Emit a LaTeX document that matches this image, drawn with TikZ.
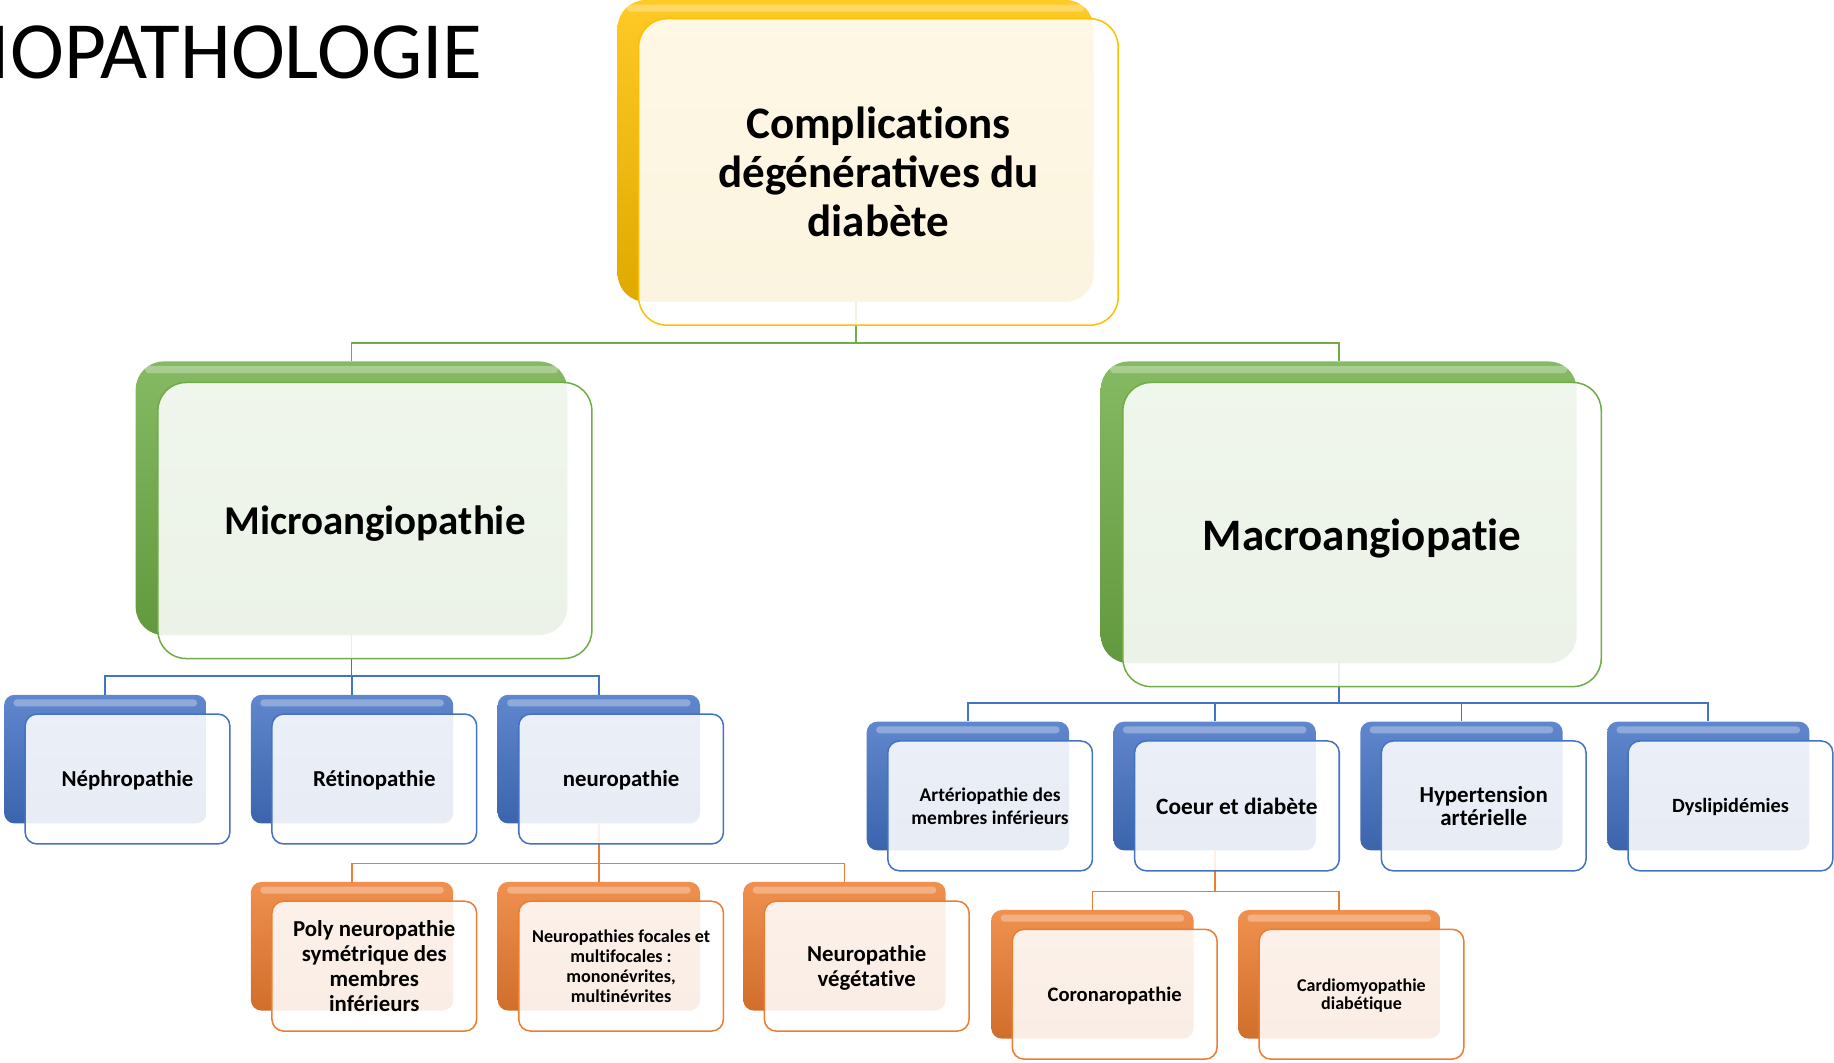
\documentclass[tikz,border=0pt]{standalone}
\usepackage{fontspec}
\setmainfont{Carlito}
\definecolor{yel}{HTML}{FFC000}
\definecolor{grn}{HTML}{70AD47}
\definecolor{blu}{HTML}{4472C4}
\definecolor{org}{HTML}{ED7D31}
% break the t-i ligature of Carlito
\newcommand{\tbreak}{\kern0pt\relax}
\begin{document}
\begin{tikzpicture}[x=1pt,y=-1pt,
  cardback/.style={draw=none, top color=#1!85!white, bottom color=#1!88!black,
    rounded corners=9pt, minimum width=173pt, minimum height=110pt, inner sep=0pt,
    path picture={\fill[white, opacity=0.3, rounded corners=3pt]
      ([xshift=8pt,yshift=-4pt]path picture bounding box.north west) rectangle
      ([xshift=-8pt,yshift=-10pt]path picture bounding box.north east);}},
  cardfront/.style={draw=#1, line width=1.3pt, fill=white, fill opacity=0.88, text opacity=1,
    rounded corners=10pt, minimum width=175pt, minimum height=111pt, inner sep=1pt,
    align=center, text depth=0pt},
  largecard/.style={rounded corners=24pt},
  fsize/.style 2 args={font=\bfseries\fontsize{#1}{#2}\selectfont},
  wire/.style={draw=#1, line width=1.6pt}]

\useasboundingbox (0,0) rectangle (1568,908);
\clip (0,0) rectangle (1568,908);

\node[anchor=base west, inner sep=0pt, font=\fontsize{69.5}{70}\selectfont] (title) at (-9,67) {IOPATHOLOGIE};

%back cards
\node[cardback=yel, largecard, minimum width=407pt, minimum height=258pt] (complB) at (731.5,129) {};
\node[cardback=grn, largecard, minimum width=369pt, minimum height=234pt] (micB) at (300.5,426) {};
\node[cardback=grn, largecard, minimum width=407pt, minimum height=258pt] (macB) at (1144.5,438) {};

\node[cardback=blu] (nephB) at (90,649) {};
\node[cardback=blu] (retB) at (301,649) {};
\node[cardback=blu] (neuroB) at (512,649) {};
\node[cardback=org] (polyB) at (301,809) {};
\node[cardback=org] (focalB) at (512,809) {};
\node[cardback=org] (vegB) at (722,809) {};

\node[cardback=blu] (artB) at (827.5,672) {};
\node[cardback=blu] (coeurB) at (1038.5,672) {};
\node[cardback=blu] (htaB) at (1249.5,672) {};
\node[cardback=blu] (dysB) at (1460.5,672) {};
\node[cardback=org] (coroB) at (934,833) {};
\node[cardback=org] (cardioB) at (1145,833) {};

%connectors
\draw[wire=grn] (complB.south) -- ++(0,35) -| (micB.north);
\draw[wire=grn] (complB.south) -- ++(0,35) -| (macB.north);
\foreach \child in {nephB,retB,neuroB}
  \draw[wire=blu] (micB.south) -- ++(0,35) -| (\child.north);
\foreach \child in {polyB,focalB,vegB}
  \draw[wire=org] (neuroB.south) -- ++(0,34) -| (\child.north);
\foreach \child in {artB,coeurB,htaB,dysB}
  \draw[wire=blu] (macB.south) -- ++(0,34) -| (\child.north);
\foreach \child in {coroB,cardioB}
  \draw[wire=org] (coeurB.south) -- ++(0,35) -| (\child.north);

%front cards with the texts
\node[cardfront=yel, largecard, minimum width=410pt, minimum height=262pt, fsize={38.5}{42}] (compl)
  at ([shift={(19.5,18)}]complB.center) {Complicat\tbreak ions\\dégénératives du\\diabète};
\node[cardfront=grn, largecard, minimum width=371pt, minimum height=236pt, fsize={35}{38}] (mic)
  at ([shift={(20,19)}]micB.center) {Microangiopathie};
\node[cardfront=grn, largecard, minimum width=409pt, minimum height=260pt, fsize={38.5}{42}] (mac)
  at ([shift={(20,19)}]macB.center) {Macroangiopat\tbreak ie};

\node[cardfront=blu, fsize={19.5}{21.3}] (neph) at ([shift={(19,17)}]nephB.center) {Néphropathie};
\node[cardfront=blu, fsize={19.5}{21.3}] (ret) at ([shift={(19,17)}]retB.center) {Rét\tbreak inopathie};
\node[cardfront=blu, fsize={19.5}{21.3}] (neuro) at ([shift={(19,17)}]neuroB.center) {neuropathie};
\node[cardfront=org, fsize={19.5}{21.3}] (poly) at ([shift={(19,17)}]polyB.center)
  {Poly neuropathie\\symétrique des\\membres\\inférieurs};
\node[cardfront=org, fsize={15.5}{17}] (focal) at ([shift={(19,17)}]focalB.center)
  {Neuropathies focales et\\mult\tbreak ifocales :\\mononévrites,\\mult\tbreak inévrites};
\node[cardfront=org, fsize={19.5}{21}] (veg) at ([shift={(19,17)}]vegB.center)
  {Neuropathie\\végétat\tbreak ive};

\node[cardfront=blu, fsize={16.6}{20}] (art) at ([shift={(19,17)}]artB.center)
  {Artériopathie des\\membres inférieurs};
\node[cardfront=blu, fsize={20}{21}] (coeur) at ([shift={(19,17)}]coeurB.center) {Coeur et diabète};
\node[cardfront=blu, fsize={19.6}{20}] (hta) at ([shift={(19,17)}]htaB.center) {Hypertension\\artérielle};
\node[cardfront=blu, fsize={17.3}{19}] (dys) at ([shift={(19,17)}]dysB.center) {Dyslipidémies};
\node[cardfront=org, fsize={17.6}{19}] (coro) at ([shift={(19,17)}]coroB.center) {Coronaropathie};
\node[cardfront=org, fsize={15.4}{16}] (cardio) at ([shift={(19,17)}]cardioB.center)
  {Cardiomyopathie\\diabét\tbreak ique};

\end{tikzpicture}
\end{document}
